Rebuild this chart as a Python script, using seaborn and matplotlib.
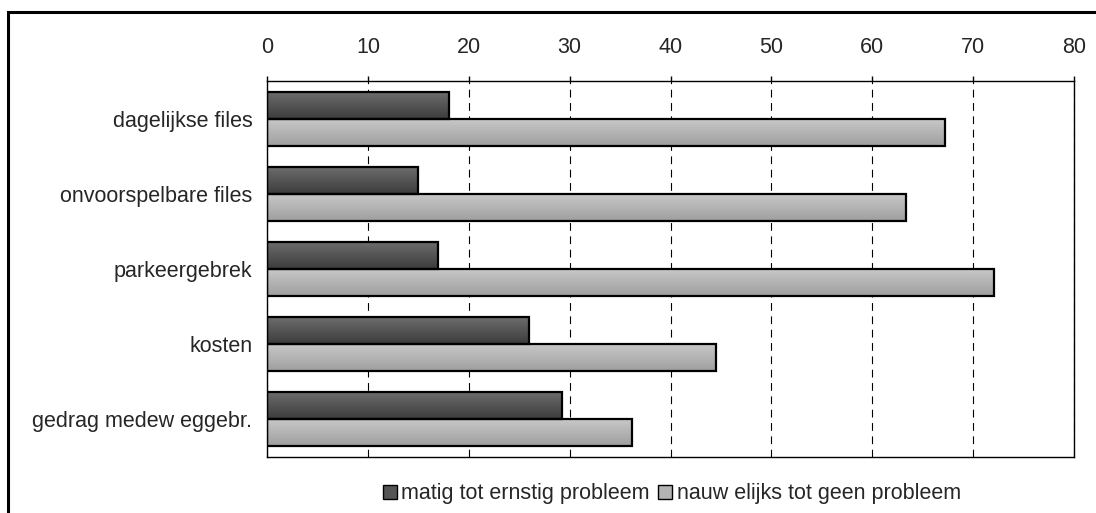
import numpy as np
import pandas as pd
import matplotlib
matplotlib.use("Agg")
import matplotlib.pyplot as plt
import seaborn as sns
from matplotlib.patches import Rectangle
from matplotlib.lines import Line2D
from matplotlib.colors import LinearSegmentedColormap

# Survey categories and the share (%) per answer group
categories = ["dagelijkse files", "onvoorspelbare files", "parkeergebrek",
              "kosten", "gedrag medew eggebr."]
series_names = ["matig tot ernstig probleem", "nauw elijks tot geen probleem"]
matig = [18, 15, 17, 26, 29.2]
nauwelijks = [67.2, 63.3, 72.1, 44.5, 36.2]
x_ticks = [0, 10, 20, 30, 40, 50, 60, 70, 80]

sns.set_theme(style="white")
plt.rcParams["font.family"] = ["Liberation Sans", "DejaVu Sans"]

df = pd.DataFrame({
    "categorie": categories * 2,
    "reeks": [series_names[0]] * len(categories) + [series_names[1]] * len(categories),
    "waarde": matig + nauwelijks,
})

base_colors = {series_names[0]: "#555555", series_names[1]: "#b4b4b4"}
grad_ends = {series_names[0]: ("#6e6e6e", "#3c3c3c"),
             series_names[1]: ("#c9c9c9", "#9f9f9f")}

FS = 15.5

fig = plt.figure(figsize=(10.96, 5.13), dpi=100)
ax = fig.add_axes([267 / 1096, 1 - 457 / 513, (1074 - 267) / 1096, (457 - 81) / 513])

sns.barplot(data=df, y="categorie", x="waarde", hue="reeks", order=categories,
            hue_order=series_names, palette=base_colors, orient="h", width=0.72,
            edgecolor="black", linewidth=1.6, saturation=1, legend=False, ax=ax)

# vertical gradient fill inside each bar
for container, name in zip(ax.containers, series_names):
    cmap = LinearSegmentedColormap.from_list(name, list(grad_ends[name]))
    for patch in container:
        x0, y0 = patch.get_x(), patch.get_y()
        w, h = patch.get_width(), patch.get_height()
        grad = np.linspace(0, 1, 64).reshape(-1, 1)
        im = ax.imshow(grad, cmap=cmap, aspect="auto", origin="upper",
                       extent=(x0, x0 + w, y0 + h, y0), zorder=patch.get_zorder() - 0.01,
                       interpolation="bilinear")
        im.set_clip_path(patch)
        patch.set_facecolor("none")

ax.set_xlim(0, 80)
ax.set_ylim(len(categories) - 0.5, -0.5)
ax.set_aspect("auto")
ax.set_xlabel("")
ax.set_ylabel("")

ax.xaxis.tick_top()
ax.set_xticks(x_ticks)
ax.set_xticklabels([str(t) for t in x_ticks], fontsize=FS)
ax.tick_params(axis="x", direction="out", length=3.6, width=1, color="black", pad=13)

ax.set_yticks(range(len(categories)))
ax.set_yticklabels(categories, fontsize=FS)
ax.set_yticks(np.arange(-0.5, len(categories), 1), minor=True)
ax.tick_params(axis="y", which="major", length=0, pad=10.5)
ax.tick_params(axis="y", which="minor", direction="out", length=3.6, width=1, color="black")

ax.set_axisbelow(True)
ax.xaxis.grid(True, color="black", linestyle=(0, (7, 5)), linewidth=0.8)
ax.yaxis.grid(False)
for side in ["left", "bottom", "top", "right"]:
    ax.spines[side].set_color("black")
    ax.spines[side].set_linewidth(1)

# legend below the chart
handles = [Line2D([], [], marker="s", linestyle="none", markersize=10,
                  markerfacecolor=base_colors[n], markeredgecolor="black",
                  markeredgewidth=1) for n in series_names]
fig.legend(handles, series_names, loc="center", ncol=2, frameon=False,
           bbox_to_anchor=(671 / 1096, 1 - 494 / 513), fontsize=FS,
           handletextpad=0.15, columnspacing=0.3, handlelength=0.8)

# outer frame around the chart area
fig.patches.append(Rectangle((8 / 1096, -0.05), 1.1, 1 - 12 / 513 + 0.05,
                             transform=fig.transFigure, fill=False,
                             edgecolor="black", linewidth=2.2, zorder=10))

fig.savefig("out.png", dpi=100)
